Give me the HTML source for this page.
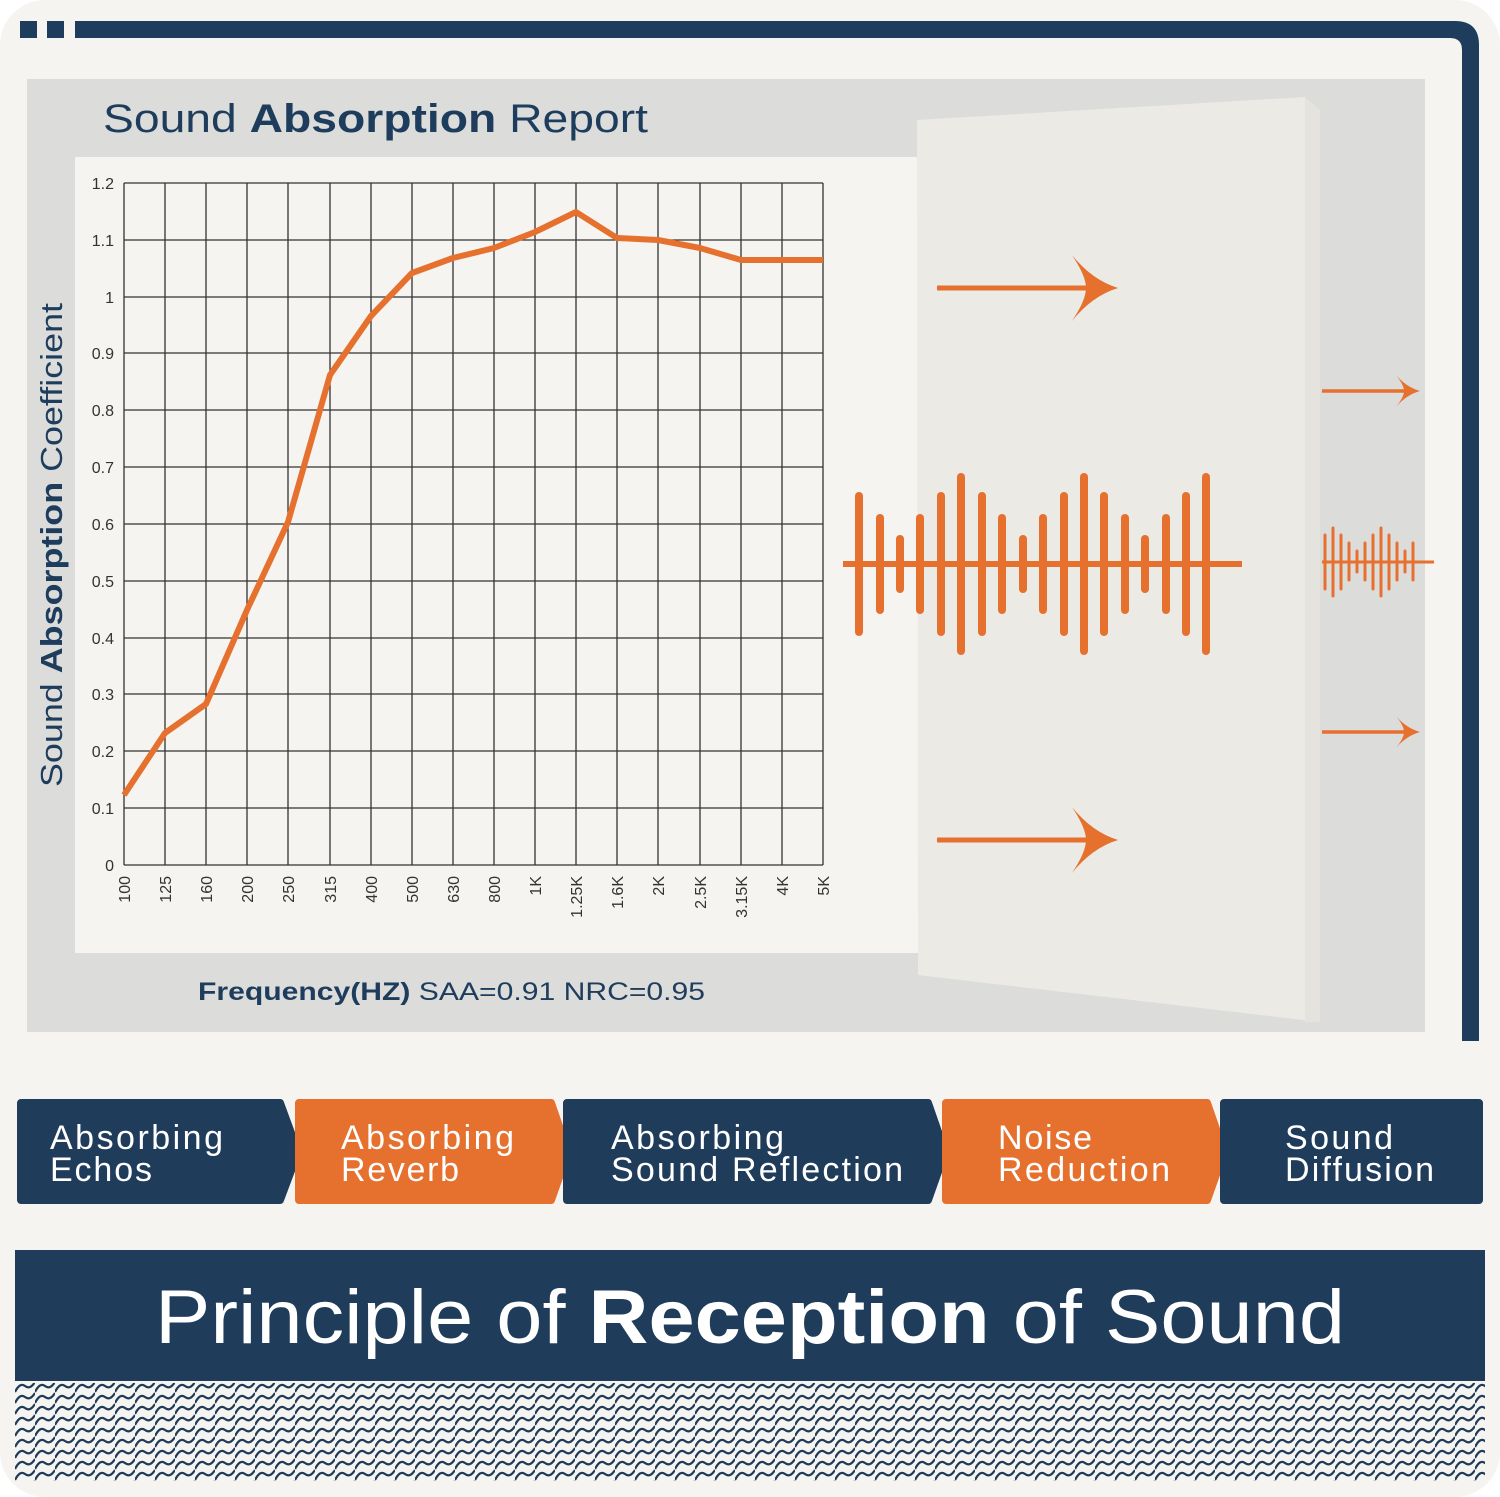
<!DOCTYPE html>
<html><head><meta charset="utf-8"><style>
html,body{margin:0;padding:0;background:#fff;}
svg{display:block;font-family:"Liberation Sans",sans-serif;}
</style></head><body>
<svg width="1500" height="1497" viewBox="0 0 1500 1497" xmlns="http://www.w3.org/2000/svg">
<defs>
<pattern id="wv" x="15" y="1383" width="20" height="11" patternUnits="userSpaceOnUse">
<path d="M0 9 Q5 -1 10 3 Q15 7 20 -1 M0 20 Q5 10 10 14 Q15 18 20 10" fill="none" stroke="#1f3c5a" stroke-width="2.2"/>
</pattern>
</defs>
<rect x="0" y="0" width="1500" height="1497" rx="45" fill="#f5f4f0"/>
<rect x="20" y="21" width="17" height="17" fill="#1e3d5c"/>
<rect x="47" y="21" width="17" height="17" fill="#1e3d5c"/>
<path d="M75 21 H1455 Q1479 21 1479 45 V1041 H1462 V50 Q1462 38 1450 38 H75 Z" fill="#1e3d5c"/>
<rect x="27" y="79" width="1398" height="953" fill="#dcdcdb"/>
<rect x="75" y="157" width="843" height="796" fill="#f5f4f0"/>
<text x="103" y="132" font-size="40" fill="#1e3d5c" textLength="545" lengthAdjust="spacingAndGlyphs">Sound <tspan font-weight="bold">Absorption</tspan> Report</text>
<text transform="translate(62,545) rotate(-90)" text-anchor="middle" font-size="31" fill="#1e3d5c" textLength="484" lengthAdjust="spacingAndGlyphs">Sound <tspan font-weight="bold">Absorption</tspan> Coefficient</text>
<text x="198" y="1000" font-size="25" fill="#1e3d5c" textLength="507" lengthAdjust="spacingAndGlyphs"><tspan font-weight="bold">Frequency(HZ)</tspan>  SAA=0.91  NRC=0.95</text>
<g stroke="#333" stroke-width="1.3">
<line x1="124" y1="183" x2="823" y2="183"/><line x1="124" y1="240" x2="823" y2="240"/><line x1="124" y1="297" x2="823" y2="297"/><line x1="124" y1="353" x2="823" y2="353"/><line x1="124" y1="410" x2="823" y2="410"/><line x1="124" y1="467" x2="823" y2="467"/><line x1="124" y1="524" x2="823" y2="524"/><line x1="124" y1="581" x2="823" y2="581"/><line x1="124" y1="638" x2="823" y2="638"/><line x1="124" y1="694" x2="823" y2="694"/><line x1="124" y1="751" x2="823" y2="751"/><line x1="124" y1="808" x2="823" y2="808"/><line x1="124" y1="865" x2="823" y2="865"/>
<line x1="124" y1="183" x2="124" y2="865"/><line x1="165" y1="183" x2="165" y2="865"/><line x1="206" y1="183" x2="206" y2="865"/><line x1="247" y1="183" x2="247" y2="865"/><line x1="288" y1="183" x2="288" y2="865"/><line x1="330" y1="183" x2="330" y2="865"/><line x1="371" y1="183" x2="371" y2="865"/><line x1="412" y1="183" x2="412" y2="865"/><line x1="453" y1="183" x2="453" y2="865"/><line x1="494" y1="183" x2="494" y2="865"/><line x1="535" y1="183" x2="535" y2="865"/><line x1="576" y1="183" x2="576" y2="865"/><line x1="617" y1="183" x2="617" y2="865"/><line x1="658" y1="183" x2="658" y2="865"/><line x1="700" y1="183" x2="700" y2="865"/><line x1="741" y1="183" x2="741" y2="865"/><line x1="782" y1="183" x2="782" y2="865"/><line x1="823" y1="183" x2="823" y2="865"/>
</g>
<g font-size="16" fill="#333" text-anchor="end">
<text x="114" y="189">1.2</text><text x="114" y="246">1.1</text><text x="114" y="303">1</text><text x="114" y="359">0.9</text><text x="114" y="416">0.8</text><text x="114" y="473">0.7</text><text x="114" y="530">0.6</text><text x="114" y="587">0.5</text><text x="114" y="644">0.4</text><text x="114" y="700">0.3</text><text x="114" y="757">0.2</text><text x="114" y="814">0.1</text><text x="114" y="871">0</text>
</g>
<g font-size="16" fill="#333" text-anchor="end">
<text transform="translate(130,876) rotate(-90)">100</text><text transform="translate(171,876) rotate(-90)">125</text><text transform="translate(212,876) rotate(-90)">160</text><text transform="translate(253,876) rotate(-90)">200</text><text transform="translate(294,876) rotate(-90)">250</text><text transform="translate(336,876) rotate(-90)">315</text><text transform="translate(377,876) rotate(-90)">400</text><text transform="translate(418,876) rotate(-90)">500</text><text transform="translate(459,876) rotate(-90)">630</text><text transform="translate(500,876) rotate(-90)">800</text><text transform="translate(541,876) rotate(-90)">1K</text><text transform="translate(582,876) rotate(-90)">1.25K</text><text transform="translate(623,876) rotate(-90)">1.6K</text><text transform="translate(664,876) rotate(-90)">2K</text><text transform="translate(706,876) rotate(-90)">2.5K</text><text transform="translate(747,876) rotate(-90)">3.15K</text><text transform="translate(788,876) rotate(-90)">4K</text><text transform="translate(829,876) rotate(-90)">5K</text>
</g>
<polyline fill="none" stroke="#e6702e" stroke-width="6" stroke-linejoin="round" points="124,795 165,733 206,704 247,610 288,522 330,375 371,316 412,273 453,258 494,248 535,232 576,212 617,238 658,240 700,248 741,260 782,260 823,260"/>
<polygon points="917,120 1305,97 1320,110 1320,1022 918,975" fill="#eceae5"/>
<polygon points="1305,97 1320,110 1320,1022 1305,1022" fill="#e4e3de"/>
<g stroke="#e6702e" stroke-width="5" fill="none">
<line x1="937" y1="288" x2="1110" y2="288"/>
<line x1="937" y1="840" x2="1110" y2="840"/>
<line x1="1322" y1="391" x2="1412" y2="391" stroke-width="3.5"/>
<line x1="1322" y1="732" x2="1412" y2="732" stroke-width="3.5"/>
</g>
<g fill="#e6702e">
<path d="M1072 255 Q1092 280 1118 288 Q1092 296 1072 321 Q1086 300 1086 288 Q1086 276 1072 255 Z"/>
<path d="M1072 807 Q1092 832 1118 840 Q1092 848 1072 873 Q1086 852 1086 840 Q1086 828 1072 807 Z"/>
<path d="M1396 375 Q1406 387 1420 391 Q1406 395 1396 407 Q1404 397 1404 391 Q1404 385 1396 375 Z"/>
<path d="M1396 716 Q1406 728 1420 732 Q1406 736 1396 748 Q1404 738 1404 732 Q1404 726 1396 716 Z"/>
</g>
<g stroke="#e6702e" stroke-width="8" stroke-linecap="round">
<line x1="859" y1="496" x2="859" y2="632"/><line x1="880" y1="518" x2="880" y2="610"/><line x1="900" y1="539" x2="900" y2="589"/><line x1="920" y1="518" x2="920" y2="610"/><line x1="941" y1="496" x2="941" y2="632"/><line x1="961" y1="477" x2="961" y2="651"/><line x1="982" y1="496" x2="982" y2="632"/><line x1="1002" y1="518" x2="1002" y2="610"/><line x1="1023" y1="539" x2="1023" y2="589"/><line x1="1043" y1="518" x2="1043" y2="610"/><line x1="1064" y1="496" x2="1064" y2="632"/><line x1="1084" y1="477" x2="1084" y2="651"/><line x1="1104" y1="496" x2="1104" y2="632"/><line x1="1125" y1="518" x2="1125" y2="610"/><line x1="1145" y1="539" x2="1145" y2="589"/><line x1="1166" y1="518" x2="1166" y2="610"/><line x1="1186" y1="496" x2="1186" y2="632"/><line x1="1206" y1="477" x2="1206" y2="651"/>
</g>
<line x1="843" y1="564" x2="1242" y2="564" stroke="#e6702e" stroke-width="6"/>
<g stroke="#e6702e" stroke-width="3" stroke-linecap="round">
<line x1="1325" y1="535" x2="1325" y2="589"/><line x1="1333" y1="528" x2="1333" y2="596"/><line x1="1341" y1="535" x2="1341" y2="589"/><line x1="1349" y1="543" x2="1349" y2="580"/><line x1="1357" y1="551" x2="1357" y2="572"/><line x1="1365" y1="543" x2="1365" y2="580"/><line x1="1373" y1="535" x2="1373" y2="589"/><line x1="1381" y1="528" x2="1381" y2="596"/><line x1="1389" y1="535" x2="1389" y2="589"/><line x1="1397" y1="543" x2="1397" y2="580"/><line x1="1405" y1="551" x2="1405" y2="572"/><line x1="1413" y1="543" x2="1413" y2="580"/>
</g>
<line x1="1322" y1="562" x2="1434" y2="562" stroke="#e6702e" stroke-width="3"/>
<g stroke-linejoin="round" stroke-width="8">
<polygon points="21,1103 280,1103 298,1152 280,1200 21,1200" fill="#1f3c5a" stroke="#1f3c5a"/>
<polygon points="299,1103 551,1103 568,1152 551,1200 299,1200" fill="#e6702e" stroke="#e6702e"/>
<polygon points="567,1103 928,1103 945,1152 928,1200 567,1200" fill="#1f3c5a" stroke="#1f3c5a"/>
<polygon points="946,1103 1207,1103 1224,1152 1207,1200 946,1200" fill="#e6702e" stroke="#e6702e"/>
<polygon points="1224,1103 1479,1103 1479,1200 1224,1200" fill="#1f3c5a" stroke="#1f3c5a"/>
</g>
<g font-size="34" fill="#fff" lengthAdjust="spacingAndGlyphs">
<text x="50" y="1149" textLength="173">Absorbing</text><text x="50" y="1181" textLength="102">Echos</text>
<text x="341" y="1149" textLength="173">Absorbing</text><text x="341" y="1181" textLength="118">Reverb</text>
<text x="611" y="1149" textLength="173">Absorbing</text><text x="611" y="1181" textLength="292">Sound Reflection</text>
<text x="998" y="1149" textLength="94">Noise</text><text x="998" y="1181" textLength="172">Reduction</text>
<text x="1285" y="1149" textLength="108">Sound</text><text x="1285" y="1181" textLength="149">Diffusion</text>
</g>
<rect x="15" y="1250" width="1470" height="131" fill="#1f3c5a"/>
<text x="155" y="1343" font-size="76" fill="#fff" textLength="1190" lengthAdjust="spacingAndGlyphs">Principle of <tspan font-weight="bold">Reception</tspan> of Sound</text>
<rect x="15" y="1383" width="1470" height="98" fill="url(#wv)"/>
</svg>
</body></html>
